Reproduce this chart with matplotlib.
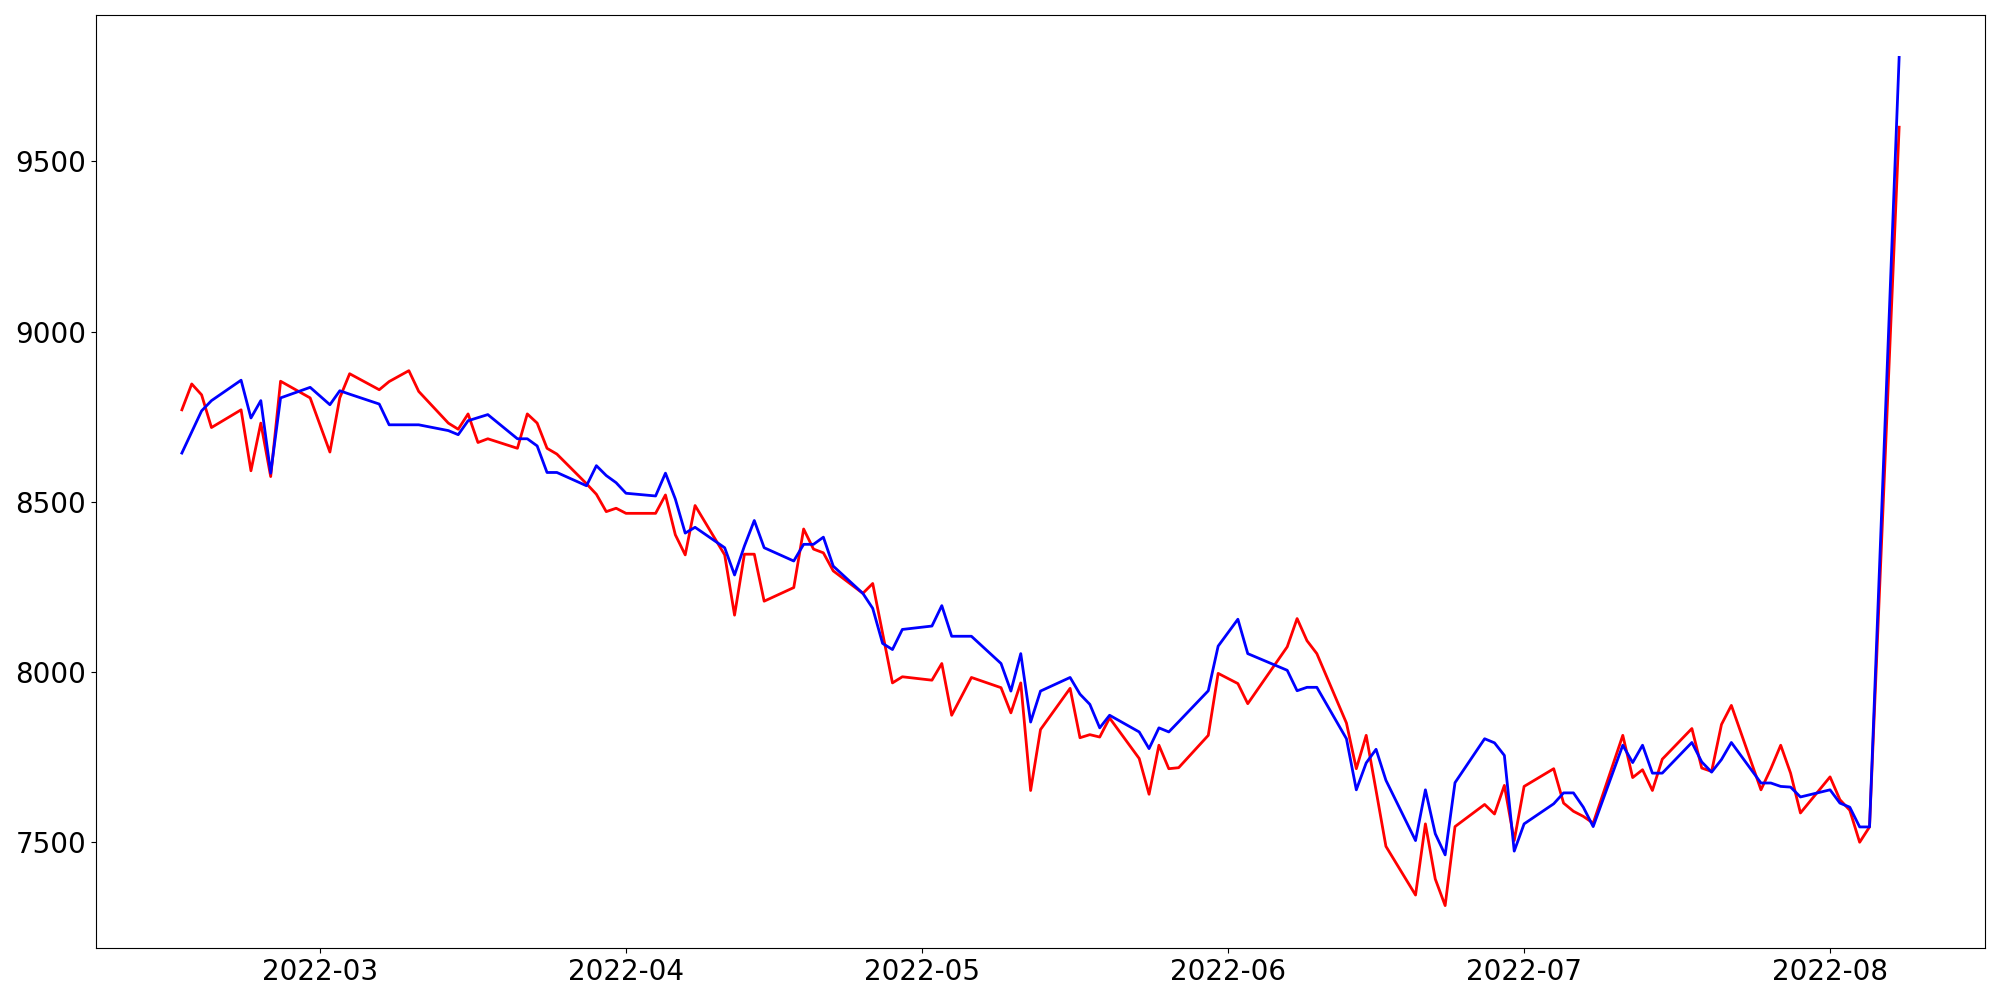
import matplotlib
matplotlib.use("Agg")
import matplotlib.pyplot as plt
import matplotlib.dates as mdates
import pandas as pd

# Trading days (Korean market calendar): business days minus holidays
start_date = "2022-02-15"
end_date = "2022-08-08"
holidays = ["2022-03-01", "2022-03-09", "2022-05-05", "2022-06-01", "2022-06-06"]

red_vals = [
    8770, 8846, 8814, 8718, 8770, 8591, 8731, 8574, 8854, 8805,
    8646, 8805, 8876, 8829, 8853, 8885, 8824, 8731, 8713, 8758,
    8674, 8685, 8657, 8758, 8731, 8657, 8640, 8553, 8522, 8471,
    8481, 8466, 8466, 8520, 8403, 8344, 8489, 8344, 8167, 8346,
    8346, 8208, 8248, 8420, 8361, 8350, 8297, 8231, 8260, 8114,
    7968, 7986, 7976, 8025, 7873, 7984, 7954, 7880, 7968, 7652,
    7831, 7952, 7807, 7816, 7809, 7865, 7746, 7641, 7785, 7716,
    7719, 7814, 7996, 7966, 7907, 8074, 8157, 8092, 8054, 7850,
    7716, 7814, 7652, 7488, 7345, 7554, 7392, 7314, 7546, 7611,
    7583, 7667, 7505, 7664, 7716, 7615, 7591, 7576, 7556, 7814,
    7690, 7713, 7652, 7744, 7834, 7718, 7708, 7846, 7902, 7654,
    7716, 7785, 7703, 7586, 7692, 7625, 7594, 7500, 7545, 9600,
]

blue_vals = [
    8643, 8705, 8767, 8797, 8857, 8746, 8797, 8584, 8805, 8836,
    8785, 8826, 8816, 8787, 8726, 8726, 8726, 8709, 8697, 8738,
    8747, 8756, 8685, 8685, 8664, 8586, 8586, 8547, 8606, 8577,
    8556, 8525, 8517, 8584, 8508, 8408, 8425, 8365, 8285, 8370,
    8445, 8365, 8326, 8375, 8375, 8396, 8311, 8231, 8187, 8084,
    8066, 8125, 8135, 8195, 8105, 8105, 8025, 7944, 8054, 7853,
    7944, 7984, 7935, 7905, 7836, 7873, 7824, 7775, 7836, 7824,
    7854, 7945, 8076, 8155, 8054, 8005, 7945, 7955, 7955, 7804,
    7654, 7733, 7773, 7682, 7505, 7654, 7525, 7463, 7675, 7804,
    7792, 7755, 7474, 7554, 7613, 7645, 7645, 7603, 7546, 7785,
    7734, 7785, 7703, 7703, 7793, 7736, 7706, 7743, 7793, 7674,
    7674, 7664, 7662, 7633, 7654, 7615, 7603, 7545, 7545, 9805,
]

dates = pd.bdate_range(start_date, end_date)
dates = dates[~dates.isin(pd.to_datetime(holidays))]
n = min(len(dates), len(red_vals), len(blue_vals))
dates = dates[:n]

fig = plt.figure(figsize=(20, 10), dpi=100)
ax = fig.add_axes([0.048, 0.052, 0.9445, 0.933])
ax.plot(dates, red_vals[:n], color="red", linewidth=2)
ax.plot(dates, blue_vals[:n], color="blue", linewidth=2)

ax.xaxis.set_major_locator(mdates.MonthLocator())
ax.xaxis.set_major_formatter(mdates.DateFormatter("%Y-%m"))
ax.set_yticks([7500, 8000, 8500, 9000, 9500])
ax.tick_params(axis="both", labelsize=20)

fig.savefig("out.png", dpi=100)
